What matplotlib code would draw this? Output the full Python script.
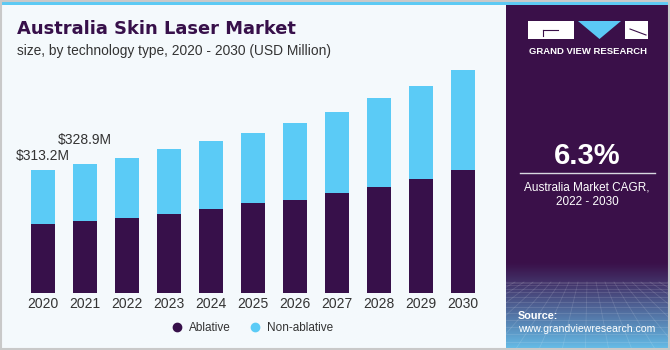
import numpy as np
import matplotlib
matplotlib.use("Agg")
import matplotlib.pyplot as plt
from matplotlib.patches import Rectangle, Polygon
from matplotlib.lines import Line2D

plt.rcParams['font.family'] = ['Liberation Sans', 'DejaVu Sans']

# ---------------- data ----------------
years = ["2020", "2021", "2022", "2023", "2024", "2025", "2026", "2027", "2028", "2029", "2030"]
ablative = [175.3, 182.9, 190.5, 202.2, 213.4, 228.6, 237.7, 254.0, 270.8, 291.1, 312.4]
non_ablative = [137.9, 146.0, 152.4, 163.6, 173.5, 179.1, 194.9, 206.5, 224.5, 235.4, 254.0]
series_names = ["Ablative", "Non-ablative"]
labels = {0: "$313.2M", 1: "$328.9M"}
title = "Australia Skin Laser Market"
subtitle = "size, by technology type, 2020 - 2030 (USD Million)"
cagr = "6.3%"
cagr_text = "Australia Market CAGR,\n2022 - 2030"

PURPLE = "#37104a"
BLUE = "#5bcbf6"
BG = "#f4f9fc"
PANEL = "#3a1049"
TXT = "#333333"

W, H = 670, 350
fig = plt.figure(figsize=(W / 100, H / 100), dpi=100)
fig.patch.set_facecolor(BG)

# decoration axes in pixel coords
bg = fig.add_axes([0, 0, 1, 1])
bg.set_xlim(0, W)
bg.set_ylim(H, 0)
bg.axis("off")
bg.set_zorder(0)

bg.add_patch(Rectangle((0, 0), W, 5, color="#5ccaf4", lw=0))
bg.add_patch(Rectangle((506, 5), W - 506, H - 5, color=PANEL, lw=0))
# bottom gradient of panel
grad = np.linspace(0, 1, 100)[:, None]
c0 = np.array(matplotlib.colors.to_rgb(PANEL))
c1 = np.array(matplotlib.colors.to_rgb("#66bfea"))
img = np.zeros((100, 1, 4))
img[..., :3] = c0 + (c1 - c0) * grad[..., None] ** 1.1
img[..., 3] = 1
bg.imshow(img, extent=[506, W, H, 262], aspect="auto", interpolation="bilinear", zorder=1)
# faint perspective grid
for k in range(14):
    yy = 282 + (k / 13) ** 1.6 * 68
    bg.plot([506, W], [yy, yy], color="white", alpha=0.13, lw=0.6, zorder=2)
for k in range(-12, 26):
    x_top = 506 + k * 9
    x_bot = 588 + (x_top - 588) * 2.6
    bg.plot([x_top, x_bot], [282, H], color="white", alpha=0.13, lw=0.6, zorder=2)
bg.set_xlim(0, W)
bg.set_ylim(H, 0)

# border
bg.add_patch(Rectangle((0.75, 0.75), W - 1.5, H - 1.5, fill=False, ec="#c9c9c9", lw=1.5, zorder=5))

# logo
bg.add_patch(Rectangle((528, 21), 46, 18, color="white", lw=0, zorder=3))
bg.plot([543, 558], [30, 30], color=PANEL, lw=0.8, zorder=4)
bg.plot([543, 543], [30, 36], color=PANEL, lw=0.8, zorder=4)
bg.add_patch(Polygon([[578, 21], [621, 21], [599.5, 39]], closed=True, color="#5bc8f5", lw=0, zorder=3))
bg.add_patch(Rectangle((625, 21), 23, 18, color="white", lw=0, zorder=3))
bg.plot([630, 646], [29, 35], color=PANEL, lw=0.8, zorder=4)
bg.text(588, 51.5, "GRAND VIEW RESEARCH", color="white", fontsize=6.8, fontweight="bold",
        ha="center", va="center", zorder=4)

bg.text(587, 155.5, cagr, color="white", fontsize=21, fontweight="bold", ha="center", va="center", zorder=4)
bg.plot([520, 655], [173, 173], color="#d8d8e0", lw=1, zorder=4)
bg.text(587, 195, cagr_text, color="white", fontsize=8.5, ha="center", va="center",
        linespacing=1.3, zorder=4)
bg.text(518, 316, "Source:", color="white", fontsize=7.8, fontweight="bold", ha="left", va="center", zorder=4)
bg.text(518, 329.5, "www.grandviewresearch.com", color="white", fontsize=7.6, ha="left", va="center", zorder=4)

# title
bg.text(17, 29, title, color=PURPLE, fontsize=12.9, fontweight="bold", ha="left", va="center",
        family=["DejaVu Sans"], zorder=4)
bg.text(17, 51.5, subtitle, color=TXT, fontsize=9.9, ha="left", va="center", zorder=4)

# ---------------- chart ----------------
bottom_px = 293.3
top_px = 60
ax = fig.add_axes([0, (H - bottom_px) / H, 505 / W, (bottom_px - top_px) / H])
ax.set_zorder(2)
ax.patch.set_alpha(0)
x = np.arange(len(years))
ax.bar(x, ablative, width=0.571, color=PURPLE, lw=0)
ax.bar(x, non_ablative, bottom=ablative, width=0.571, color=BLUE, lw=0)
ax.set_xlim(-1.024, 11.0)
ax.set_ylim(0, (bottom_px - top_px) * 2.54)
for s in ax.spines.values():
    s.set_visible(False)
ax.set_yticks([])
ax.set_xticks(x, years)
ax.tick_params(axis="x", length=0, pad=3, labelsize=10, labelcolor=TXT)

offsets = {0: 14, 1: 24}
for i, t in labels.items():
    tot = ablative[i] + non_ablative[i]
    ax.annotate(t, (x[i], tot), xytext=(0, offsets[i] / 1.389), textcoords="offset points",
                ha="center", va="center", fontsize=10, color=TXT)

handles = [Line2D([], [], marker="o", ls="", color=PURPLE, markersize=6),
           Line2D([], [], marker="o", ls="", color=BLUE, markersize=6)]
fig.legend(handles, series_names, loc="center", bbox_to_anchor=(252 / W, 1 - 328 / H), ncol=2,
           frameon=False, fontsize=8.5, handletextpad=0.5, columnspacing=1.6, labelcolor=TXT,
           handlelength=1.0)

fig.savefig("out.png", dpi=100, facecolor=fig.get_facecolor())
